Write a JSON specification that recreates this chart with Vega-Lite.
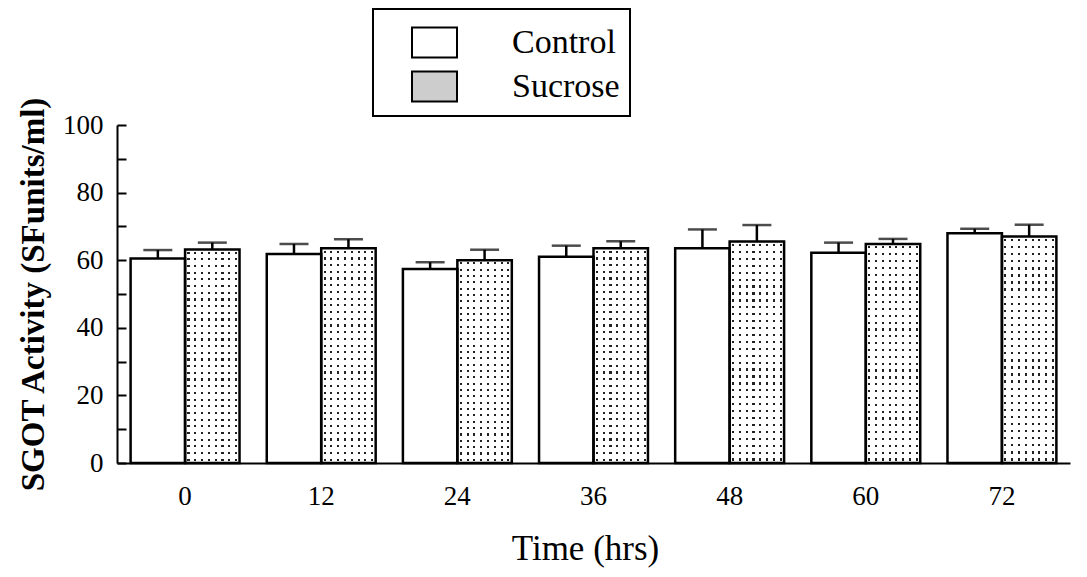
{
  "$schema": "https://vega.github.io/schema/vega-lite/v6.json",
  "width": 953,
  "height": 338,
  "autosize": {"type": "none"},
  "padding": {"left": 117, "top": 125, "right": 17, "bottom": 114},
  "background": "white",
  "config": {
    "view": {"stroke": null},
    "font": "Liberation Serif",
    "axis": {"domainColor": "black", "domainWidth": 2, "tickColor": "black", "tickWidth": 2, "labelColor": "black", "titleColor": "black", "grid": false, "labelFont": "Liberation Serif", "titleFont": "Liberation Serif"}
  },
  "data": {
    "values": [
      {"time": "0", "group": "Control", "mean": 60.5, "upper": 63.0},
      {"time": "0", "group": "Sucrose", "mean": 63.2, "upper": 65.2},
      {"time": "12", "group": "Control", "mean": 61.8, "upper": 64.8},
      {"time": "12", "group": "Sucrose", "mean": 63.5, "upper": 66.2},
      {"time": "24", "group": "Control", "mean": 57.4, "upper": 59.4},
      {"time": "24", "group": "Sucrose", "mean": 60.0, "upper": 63.1},
      {"time": "36", "group": "Control", "mean": 61.0, "upper": 64.3},
      {"time": "36", "group": "Sucrose", "mean": 63.5, "upper": 65.6},
      {"time": "48", "group": "Control", "mean": 63.5, "upper": 69.1},
      {"time": "48", "group": "Sucrose", "mean": 65.5, "upper": 70.4},
      {"time": "60", "group": "Control", "mean": 62.2, "upper": 65.2},
      {"time": "60", "group": "Sucrose", "mean": 64.8, "upper": 66.3},
      {"time": "72", "group": "Control", "mean": 68.0, "upper": 69.3},
      {"time": "72", "group": "Sucrose", "mean": 67.0, "upper": 70.5}
    ]
  },
  "encoding": {
    "x": {
      "field": "time",
      "type": "ordinal",
      "sort": ["0", "12", "24", "36", "48", "60", "72"],
      "scale": {"paddingInner": 0.2, "paddingOuter": 0.1},
      "axis": {
        "title": "Time (hrs)",
        "titleFontSize": 35,
        "titleFontWeight": "normal",
        "titlePadding": 22,
        "titleX": 468,
        "labelFontSize": 27,
        "labelAngle": 0,
        "labelPadding": 20,
        "ticks": false
      }
    },
    "xOffset": {
      "field": "group",
      "type": "nominal",
      "scale": {"domain": ["Control", "Sucrose"], "paddingInner": 0, "paddingOuter": 0}
    },
    "y": {
      "field": "mean",
      "type": "quantitative",
      "scale": {"domain": [0, 100], "nice": false},
      "axis": {
        "title": "SGOT Activity (SFunits/ml)",
        "titleFontSize": 33,
        "titleFontWeight": "bold",
        "titlePadding": 12,
        "values": [0, 10, 20, 30, 40, 50, 60, 70, 80, 90, 100],
        "labelExpr": "datum.value % 20 === 0 ? datum.label : ''",
        "labelFontSize": 27,
        "labelPadding": 23,
        "tickSize": -9,
        "encode": {
          "ticks": {"update": {"x2": {"signal": "datum.value % 20 === 0 ? 9 : 5"}}}
        }
      }
    }
  },
  "layer": [
    {
      "mark": {"type": "bar", "strokeWidth": 0},
      "encoding": {
        "color": {
          "field": "group",
          "type": "nominal",
          "scale": {"domain": ["Control", "Sucrose"], "range": ["white", "#cdcdcd"]},
          "legend": {
            "title": null,
            "orient": "none",
            "legendX": 256,
            "legendY": -116,
            "padding": 10,
            "fillColor": "white",
            "strokeColor": "black",
            "symbolType": "M-1,-0.667H1V0.667H-1Z",
            "symbolSize": 2025,
            "symbolOffset": 28,
            "symbolStrokeColor": "black",
            "symbolStrokeWidth": 2,
            "symbolOpacity": 1,
            "labelFont": "Times New Roman, Liberation Serif, serif",
            "labelFontSize": 34,
            "labelColor": "black",
            "labelOffset": 54,
            "rowPadding": 1,
            "encode": {
              "legend": {"update": {"strokeWidth": {"value": 2}}}
            }
          }
        }
      }
    },
    {
      "transform": [{"filter": "datum.group === 'Sucrose'"}],
      "mark": {
        "type": "bar",
        "strokeWidth": 0,
        "fill": {
          "gradient": "linear", "x1": 0, "y1": 0, "x2": 1, "y2": 0,
          "stops": [
            {"offset": 0, "color": "white"},
            {"offset": 0.0435, "color": "white"}, {"offset": 0.0435, "color": "#222222"}, {"offset": 0.0815, "color": "#222222"}, {"offset": 0.0815, "color": "white"},
            {"offset": 0.1685, "color": "white"}, {"offset": 0.1685, "color": "#222222"}, {"offset": 0.2065, "color": "#222222"}, {"offset": 0.2065, "color": "white"},
            {"offset": 0.2935, "color": "white"}, {"offset": 0.2935, "color": "#222222"}, {"offset": 0.3315, "color": "#222222"}, {"offset": 0.3315, "color": "white"},
            {"offset": 0.4185, "color": "white"}, {"offset": 0.4185, "color": "#222222"}, {"offset": 0.4565, "color": "#222222"}, {"offset": 0.4565, "color": "white"},
            {"offset": 0.5435, "color": "white"}, {"offset": 0.5435, "color": "#222222"}, {"offset": 0.5815, "color": "#222222"}, {"offset": 0.5815, "color": "white"},
            {"offset": 0.6685, "color": "white"}, {"offset": 0.6685, "color": "#222222"}, {"offset": 0.7065, "color": "#222222"}, {"offset": 0.7065, "color": "white"},
            {"offset": 0.7935, "color": "white"}, {"offset": 0.7935, "color": "#222222"}, {"offset": 0.8315, "color": "#222222"}, {"offset": 0.8315, "color": "white"},
            {"offset": 0.9185, "color": "white"}, {"offset": 0.9185, "color": "#222222"}, {"offset": 0.9565, "color": "#222222"}, {"offset": 0.9565, "color": "white"},
            {"offset": 1, "color": "white"}
          ]
        }
      }
    },
    {
      "transform": [{"filter": "datum.group === 'Sucrose'"}],
      "mark": {
        "type": "bar",
        "strokeWidth": 0,
        "fill": {
          "gradient": "linear", "x1": 0, "y1": 0, "x2": 0, "y2": 1,
          "stops": [
            {"offset": 0, "color": "white"},
            {"offset": 0.0106, "color": "white"}, {"offset": 0.0106, "color": "transparent"}, {"offset": 0.0206, "color": "transparent"}, {"offset": 0.0206, "color": "white"},
            {"offset": 0.0419, "color": "white"}, {"offset": 0.0419, "color": "transparent"}, {"offset": 0.0519, "color": "transparent"}, {"offset": 0.0519, "color": "white"},
            {"offset": 0.0731, "color": "white"}, {"offset": 0.0731, "color": "transparent"}, {"offset": 0.0831, "color": "transparent"}, {"offset": 0.0831, "color": "white"},
            {"offset": 0.1044, "color": "white"}, {"offset": 0.1044, "color": "transparent"}, {"offset": 0.1144, "color": "transparent"}, {"offset": 0.1144, "color": "white"},
            {"offset": 0.1356, "color": "white"}, {"offset": 0.1356, "color": "transparent"}, {"offset": 0.1456, "color": "transparent"}, {"offset": 0.1456, "color": "white"},
            {"offset": 0.1669, "color": "white"}, {"offset": 0.1669, "color": "transparent"}, {"offset": 0.1769, "color": "transparent"}, {"offset": 0.1769, "color": "white"},
            {"offset": 0.1981, "color": "white"}, {"offset": 0.1981, "color": "transparent"}, {"offset": 0.2081, "color": "transparent"}, {"offset": 0.2081, "color": "white"},
            {"offset": 0.2294, "color": "white"}, {"offset": 0.2294, "color": "transparent"}, {"offset": 0.2394, "color": "transparent"}, {"offset": 0.2394, "color": "white"},
            {"offset": 0.2606, "color": "white"}, {"offset": 0.2606, "color": "transparent"}, {"offset": 0.2706, "color": "transparent"}, {"offset": 0.2706, "color": "white"},
            {"offset": 0.2919, "color": "white"}, {"offset": 0.2919, "color": "transparent"}, {"offset": 0.3019, "color": "transparent"}, {"offset": 0.3019, "color": "white"},
            {"offset": 0.3231, "color": "white"}, {"offset": 0.3231, "color": "transparent"}, {"offset": 0.3331, "color": "transparent"}, {"offset": 0.3331, "color": "white"},
            {"offset": 0.3544, "color": "white"}, {"offset": 0.3544, "color": "transparent"}, {"offset": 0.3644, "color": "transparent"}, {"offset": 0.3644, "color": "white"},
            {"offset": 0.3856, "color": "white"}, {"offset": 0.3856, "color": "transparent"}, {"offset": 0.3956, "color": "transparent"}, {"offset": 0.3956, "color": "white"},
            {"offset": 0.4169, "color": "white"}, {"offset": 0.4169, "color": "transparent"}, {"offset": 0.4269, "color": "transparent"}, {"offset": 0.4269, "color": "white"},
            {"offset": 0.4481, "color": "white"}, {"offset": 0.4481, "color": "transparent"}, {"offset": 0.4581, "color": "transparent"}, {"offset": 0.4581, "color": "white"},
            {"offset": 0.4794, "color": "white"}, {"offset": 0.4794, "color": "transparent"}, {"offset": 0.4894, "color": "transparent"}, {"offset": 0.4894, "color": "white"},
            {"offset": 0.5106, "color": "white"}, {"offset": 0.5106, "color": "transparent"}, {"offset": 0.5206, "color": "transparent"}, {"offset": 0.5206, "color": "white"},
            {"offset": 0.5419, "color": "white"}, {"offset": 0.5419, "color": "transparent"}, {"offset": 0.5519, "color": "transparent"}, {"offset": 0.5519, "color": "white"},
            {"offset": 0.5731, "color": "white"}, {"offset": 0.5731, "color": "transparent"}, {"offset": 0.5831, "color": "transparent"}, {"offset": 0.5831, "color": "white"},
            {"offset": 0.6044, "color": "white"}, {"offset": 0.6044, "color": "transparent"}, {"offset": 0.6144, "color": "transparent"}, {"offset": 0.6144, "color": "white"},
            {"offset": 0.6356, "color": "white"}, {"offset": 0.6356, "color": "transparent"}, {"offset": 0.6456, "color": "transparent"}, {"offset": 0.6456, "color": "white"},
            {"offset": 0.6669, "color": "white"}, {"offset": 0.6669, "color": "transparent"}, {"offset": 0.6769, "color": "transparent"}, {"offset": 0.6769, "color": "white"},
            {"offset": 0.6981, "color": "white"}, {"offset": 0.6981, "color": "transparent"}, {"offset": 0.7081, "color": "transparent"}, {"offset": 0.7081, "color": "white"},
            {"offset": 0.7294, "color": "white"}, {"offset": 0.7294, "color": "transparent"}, {"offset": 0.7394, "color": "transparent"}, {"offset": 0.7394, "color": "white"},
            {"offset": 0.7606, "color": "white"}, {"offset": 0.7606, "color": "transparent"}, {"offset": 0.7706, "color": "transparent"}, {"offset": 0.7706, "color": "white"},
            {"offset": 0.7919, "color": "white"}, {"offset": 0.7919, "color": "transparent"}, {"offset": 0.8019, "color": "transparent"}, {"offset": 0.8019, "color": "white"},
            {"offset": 0.8231, "color": "white"}, {"offset": 0.8231, "color": "transparent"}, {"offset": 0.8331, "color": "transparent"}, {"offset": 0.8331, "color": "white"},
            {"offset": 0.8544, "color": "white"}, {"offset": 0.8544, "color": "transparent"}, {"offset": 0.8644, "color": "transparent"}, {"offset": 0.8644, "color": "white"},
            {"offset": 0.8856, "color": "white"}, {"offset": 0.8856, "color": "transparent"}, {"offset": 0.8956, "color": "transparent"}, {"offset": 0.8956, "color": "white"},
            {"offset": 0.9169, "color": "white"}, {"offset": 0.9169, "color": "transparent"}, {"offset": 0.9269, "color": "transparent"}, {"offset": 0.9269, "color": "white"},
            {"offset": 0.9481, "color": "white"}, {"offset": 0.9481, "color": "transparent"}, {"offset": 0.9581, "color": "transparent"}, {"offset": 0.9581, "color": "white"},
            {"offset": 0.9794, "color": "white"}, {"offset": 0.9794, "color": "transparent"}, {"offset": 0.9894, "color": "transparent"}, {"offset": 0.9894, "color": "white"},
            {"offset": 1, "color": "white"}
          ]
        }
      }
    },
    {
      "mark": {"type": "bar", "fillOpacity": 0, "stroke": "black", "strokeWidth": 2.5}
    },
    {
      "mark": {"type": "rule", "color": "black", "strokeWidth": 2.5},
      "encoding": {"y2": {"field": "upper"}}
    },
    {
      "mark": {"type": "tick", "color": "black", "size": 29, "thickness": 2.5},
      "encoding": {"y": {"field": "upper", "type": "quantitative"}}
    }
  ]
}
